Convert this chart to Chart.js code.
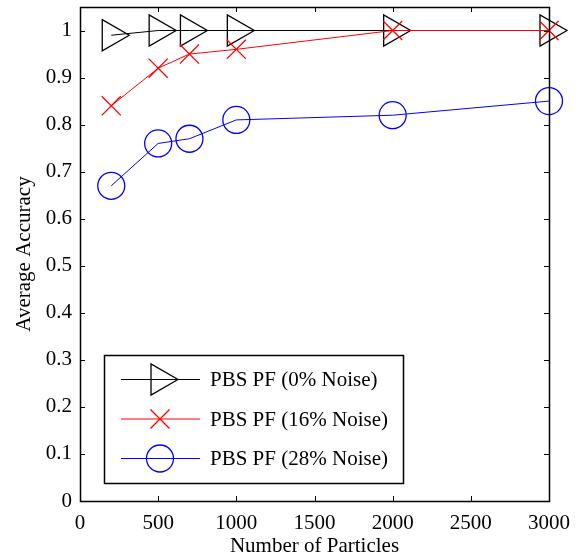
<!DOCTYPE html>
<html>
<head>
<meta charset="utf-8">
<title>Average Accuracy vs Number of Particles</title>
<script src="https://cdn.jsdelivr.net/npm/chart.js@4.4.1/dist/chart.umd.min.js"></script>
<style>
  html, body { margin: 0; padding: 0; background: #fff; }
  #wrap { width: 580px; height: 559px; position: relative; }
</style>
</head>
<body>
<div id="wrap"><canvas id="accChart"></canvas></div>
<script>
// data
const particles = [200, 500, 700, 1000, 2000, 3000];
const noise0  = [0.99, 1.0, 1.0, 1.0, 1.0, 1.0];
const noise16 = [0.84, 0.92, 0.95, 0.96, 1.0, 1.0];
const noise28 = [0.67, 0.76, 0.77, 0.81, 0.82, 0.85];
const seriesLabels = ['PBS PF (0% Noise)', 'PBS PF (16% Noise)', 'PBS PF (28% Noise)'];
const xTicks = [0, 500, 1000, 1500, 2000, 2500, 3000];
const yTicks = [0, 0.1, 0.2, 0.3, 0.4, 0.5, 0.6, 0.7, 0.8, 0.9, 1];

const FONT = "'Liberation Serif', 'Times New Roman', serif";
Chart.defaults.font.family = FONT;
Chart.defaults.font.size = 21;
Chart.defaults.color = '#000';

const toPoints = (ys) => particles.map((x, i) => ({ x: x, y: ys[i] }));

function makeSet(label, ys, color, style, radius, rotation, order) {
  return {
    label: label,
    data: toPoints(ys),
    borderColor: color,
    backgroundColor: 'rgba(0,0,0,0)',
    borderWidth: 1,
    pointStyle: style,
    pointRadius: radius,
    pointHoverRadius: radius,
    pointRotation: rotation,
    pointBorderColor: color,
    pointBackgroundColor: 'rgba(0,0,0,0)',
    pointBorderWidth: 1.3,
    tension: 0,
    fill: false,
    clip: false,
    order: order
  };
}

// box around the axes with MATLAB-style inward ticks
const axesBox = {
  id: 'axesBox',
  afterDatasetsDraw(chart) {
    const { ctx, chartArea: a, scales } = chart;
    const len = 5;
    ctx.save();
    ctx.strokeStyle = '#000';
    ctx.lineWidth = 1;
    ctx.beginPath();
    xTicks.forEach(v => {
      const px = Math.round(scales.x.getPixelForValue(v)) + 0.5;
      ctx.moveTo(px, a.bottom); ctx.lineTo(px, a.bottom - len);
      ctx.moveTo(px, a.top); ctx.lineTo(px, a.top + len);
    });
    yTicks.forEach(v => {
      const py = Math.round(scales.y.getPixelForValue(v)) + 0.5;
      ctx.moveTo(a.left, py); ctx.lineTo(a.left + len, py);
      ctx.moveTo(a.right, py); ctx.lineTo(a.right - len, py);
    });
    ctx.stroke();
    ctx.lineWidth = 1.5;
    ctx.strokeRect(Math.round(a.left) + 0.5, Math.round(a.top) + 0.5,
      Math.round(a.right - a.left), Math.round(a.bottom - a.top));
    ctx.restore();
  }
};

function marker(ctx, ds, x, y) {
  const opts = { pointStyle: ds.pointStyle, rotation: ds.pointRotation, radius: ds.pointRadius, borderWidth: ds.pointBorderWidth };
  ctx.fillStyle = 'rgba(0,0,0,0)';
  ctx.strokeStyle = ds.pointBorderColor;
  ctx.lineWidth = ds.pointBorderWidth;
  if (Chart.helpers && Chart.helpers.drawPoint) {
    Chart.helpers.drawPoint(ctx, opts, x, y);
    return;
  }
  const r = ds.pointRadius;
  ctx.beginPath();
  if (ds.pointStyle === 'circle') {
    ctx.arc(x, y, r, 0, Math.PI * 2);
  } else if (ds.pointStyle === 'crossRot') {
    const d = r * Math.SQRT1_2;
    ctx.moveTo(x - d, y - d); ctx.lineTo(x + d, y + d);
    ctx.moveTo(x - d, y + d); ctx.lineTo(x + d, y - d);
  } else {
    ctx.moveTo(x + r, y);
    ctx.lineTo(x - r / 2, y - r * 0.866);
    ctx.lineTo(x - r / 2, y + r * 0.866);
    ctx.closePath();
  }
  ctx.stroke();
}

// legend box in the lower left of the axes
const boxLegend = {
  id: 'boxLegend',
  afterDraw(chart) {
    const { ctx, chartArea: a } = chart;
    const bx = a.left + 24, by = a.bottom - 146, bw = 299, bh = 128;
    ctx.save();
    ctx.fillStyle = '#fff';
    ctx.fillRect(bx, by, bw, bh);
    ctx.strokeStyle = '#000';
    ctx.lineWidth = 1.5;
    ctx.strokeRect(bx + 0.5, by + 0.5, bw, bh);
    chart.data.datasets.forEach((ds, i) => {
      const y = by + 24.5 + i * 39.5;
      ctx.strokeStyle = ds.borderColor;
      ctx.lineWidth = 1;
      ctx.beginPath();
      ctx.moveTo(bx + 17, y); ctx.lineTo(bx + 96, y);
      ctx.stroke();
      marker(ctx, ds, bx + 56, y);
      ctx.fillStyle = '#000';
      ctx.font = '21px ' + FONT;
      ctx.textBaseline = 'middle';
      ctx.textAlign = 'left';
      ctx.fillText(ds.label, bx + 106, y + 1);
    });
    ctx.restore();
  }
};

new Chart(document.getElementById('accChart'), {
  type: 'line',
  data: {
    datasets: [
      makeSet(seriesLabels[0], noise0, '#000000', 'triangle', 18, 90, 3),
      makeSet(seriesLabels[1], noise16, '#ff0000', 'crossRot', 13.5, 0, 2),
      makeSet(seriesLabels[2], noise28, '#0000ff', 'circle', 13.5, 0, 1)
    ]
  },
  options: {
    responsive: true,
    maintainAspectRatio: false,
    animation: false,
    events: [],
    layout: { autoPadding: false, padding: { top: 7, right: 31, left: 0, bottom: 0 } },
    plugins: { legend: { display: false }, tooltip: { enabled: false } },
    scales: {
      x: {
        type: 'linear',
        min: 0, max: 3000,
        afterFit: s => { s.height = 58; s.paddingLeft = 0; s.paddingRight = 0; },
        afterBuildTicks: s => { s.ticks = xTicks.map(v => ({ value: v })); },
        grid: { display: false, drawTicks: false },
        border: { display: false },
        ticks: { padding: 10, maxRotation: 0, callback: v => String(v) },
        title: { display: true, text: 'Number of Particles', padding: { top: 0, bottom: 0 } }
      },
      y: {
        type: 'linear',
        min: 0, max: 1.05,
        afterFit: s => { s.width = 80; s.paddingTop = 0; s.paddingBottom = 0; },
        afterBuildTicks: s => { s.ticks = yTicks.map(v => ({ value: v })); },
        grid: { display: false, drawTicks: false },
        border: { display: false },
        ticks: { padding: 8, callback: v => String(Math.round(v * 10) / 10) },
        title: { display: true, text: 'Average Accuracy', padding: { top: 12, bottom: 0 } }
      }
    }
  },
  plugins: [axesBox, boxLegend]
});
</script>
</body>
</html>
